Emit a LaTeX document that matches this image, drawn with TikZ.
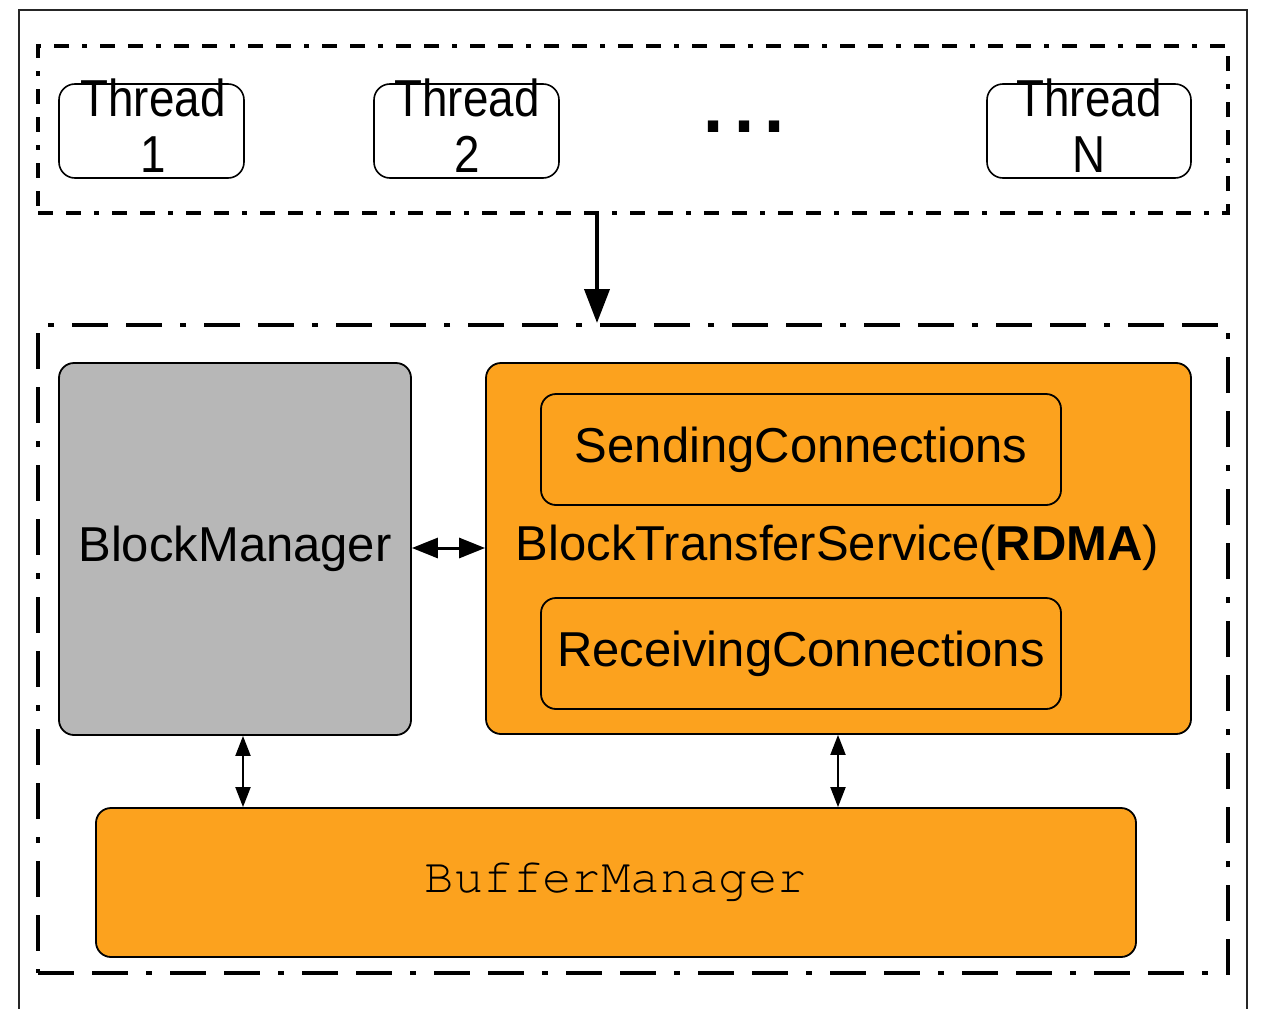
\documentclass[tikz,border=0pt]{standalone}
\usepackage{fontspec}
\usepackage{graphicx}
\setmainfont{Liberation Sans}
\newfontfamily\cursorfont[Ligatures=NoCommon]{TeX Gyre Cursor}
\usetikzlibrary{arrows.meta}

\definecolor{boxorange}{RGB}{252,162,30}
\definecolor{boxgray}{RGB}{183,183,183}

\newcommand{\narrow}[1]{\scalebox{0.88}[1]{#1}}

\tikzset{
  groupA/.style={draw, line width=4pt, line cap=butt,
    dash pattern=on 15pt off 13pt on 15pt off 13pt on 5pt off 13pt,
    rectangle, inner sep=0pt},
  groupB/.style={draw, line width=4pt, line cap=butt,
    dash pattern=on 36pt off 18pt on 36pt off 18pt on 6pt off 18pt,
    rectangle, inner sep=0pt},
  thread/.style={draw, line width=1.6pt, rounded corners=16pt, inner sep=0pt,
    minimum width=185pt, minimum height=94pt},
  threadtxt/.style={inner sep=0pt, align=center,
    font=\fontsize{52}{56}\selectfont},
  block/.style={draw, line width=1.8pt, rounded corners=15pt, inner sep=0pt,
    font=\fontsize{49}{55}\selectfont},
  bigarrow/.style={line width=4pt, -{Triangle[length=34pt,width=25pt]}},
  midarrow/.style={line width=3pt, {Triangle[length=26pt,width=20pt]}-{Triangle[length=26pt,width=20pt]}},
  smallarrow/.style={line width=2pt, {Triangle[length=20pt,width=15pt]}-{Triangle[length=20pt,width=15pt]}}
}

\begin{document}
\begin{tikzpicture}[x=1pt, y=-1pt]
\useasboundingbox (0,0) rectangle (1261,1009);

% outer frame, open at the bottom edge
\draw[line width=2pt, black!85] (19,1009) -- (19,10) -- (1247,10) -- (1247,1009);

% thread group
\node[groupA, minimum width=1190pt, minimum height=167pt] (tb) at (633,129.5) {};
\node[thread] (t1) at (151.5,131) {};
\node[thread] (t2) at (466.5,131) {};
\node[thread, minimum width=204pt] (tN) at (1089,131) {};
\node[threadtxt] (t1txt) at (153,126) {\narrow{Thread}\\\narrow{1}};
\node[threadtxt] (t2txt) at (467,126) {\narrow{Thread}\\\narrow{2}};
\node[threadtxt] (tNtxt) at (1089,126) {\narrow{Thread}\\\narrow{N}};
\node[inner sep=0pt, font=\fontsize{108}{108}\selectfont] (dots) at (744,126.5) {...};

% service group
\node[groupB, minimum width=1190pt, minimum height=648pt] (bb) at (633,649) {};

\node[block, fill=boxgray, minimum width=352pt, minimum height=372pt] (bm) at (235,549) {BlockManager};
\node[block, fill=boxorange, minimum width=705pt, minimum height=371pt] (bts) at (838.5,548.5) {};
\node[block, fill=boxorange, minimum width=520pt, minimum height=111pt] (send) at (801,449.5) {SendingConnections};
\node[block, fill=boxorange, minimum width=520pt, minimum height=111pt] (recv) at (801,653.5) {ReceivingConnections};
\node[inner sep=0pt, font=\fontsize{49}{55}\selectfont] (btslabel) at (837.5,548) {BlockTransferService(\textbf{RDMA})};
\node[block, fill=boxorange, minimum width=1040pt, minimum height=149pt, font=\cursorfont\fontsize{49}{55}\selectfont] (bufm) at (616,882.5) {BufferManager};

% connectors
\coordinate (ax) at (597,0);
\coordinate (lx) at (243,0);
\coordinate (rx) at (838,0);
\draw[bigarrow] (tb.south -| ax) -- (bb.north -| ax);
\draw[midarrow] (bm.east |- btslabel) -- (bts.west |- btslabel);
\draw[smallarrow] (bm.south -| lx) -- (bufm.north -| lx);
\draw[smallarrow] (bts.south -| rx) -- (bufm.north -| rx);
\end{tikzpicture}
\end{document}
